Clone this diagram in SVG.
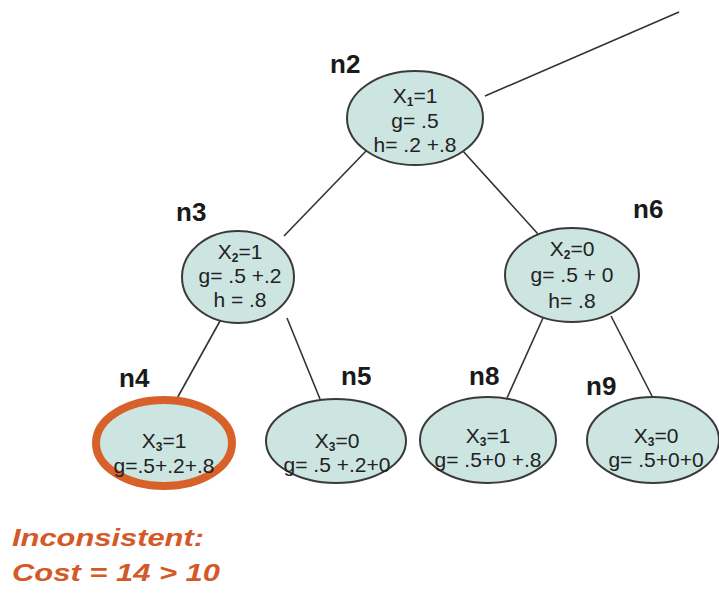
<svg xmlns="http://www.w3.org/2000/svg" width="719" height="598" viewBox="0 0 719 598">
  <style>
    .node { fill: #cce5e1; stroke: #3a3a3a; stroke-width: 2; }
    .bad { fill: #cce5e1; stroke: #d8612a; stroke-width: 8; }
    .edge { stroke: #333; stroke-width: 1.6; fill: none; }
    .t { font-family: "Liberation Sans", Arial, sans-serif; font-size: 21px; fill: #222; text-anchor: middle; }
    .sub { font-size: 12px; font-weight: bold; }
    .lbl { font-family: "Liberation Sans", Arial, sans-serif; font-size: 26px; font-weight: bold; fill: #1a1a1a; }
    .warn { font-family: "Liberation Sans", Arial, sans-serif; font-size: 23px; font-weight: bold; font-style: italic; fill: #d35a28; }
  </style>
  <rect width="719" height="598" fill="#ffffff"/>

  <!-- tree edges -->
  <g id="connectors">
    <line class="edge" x1="485" y1="96" x2="679" y2="12"/>
    <line class="edge" x1="367" y1="150" x2="284" y2="236"/>
    <line class="edge" x1="462" y1="150" x2="538" y2="234"/>
    <line class="edge" x1="220" y1="321" x2="175" y2="402"/>
    <line class="edge" x1="287" y1="318" x2="320" y2="399"/>
    <line class="edge" x1="543" y1="318" x2="507" y2="398"/>
    <line class="edge" x1="611" y1="316" x2="652" y2="396"/>
  </g>

  <g id="n2">
    <ellipse class="node" cx="415" cy="118" rx="68" ry="47"/>
    <text class="lbl" x="330" y="73">n2</text>
    <text class="t" x="415" y="103">X<tspan class="sub" dy="3">1</tspan><tspan dy="-3">=1</tspan></text>
    <text class="t" x="415" y="128">g= .5</text>
    <text class="t" x="415" y="152">h= .2 +.8</text>
  </g>

  <g id="n3">
    <ellipse class="node" cx="238" cy="277" rx="56" ry="46"/>
    <text class="lbl" x="176" y="221">n3</text>
    <text class="t" x="240" y="259">X<tspan class="sub" dy="3">2</tspan><tspan dy="-3">=1</tspan></text>
    <text class="t" x="240" y="283">g= .5 +.2</text>
    <text class="t" x="240" y="307">h = .8</text>
  </g>

  <g id="n6">
    <ellipse class="node" cx="572" cy="275" rx="67" ry="47"/>
    <text class="lbl" x="633" y="218">n6</text>
    <text class="t" x="572" y="256">X<tspan class="sub" dy="3">2</tspan><tspan dy="-3">=0</tspan></text>
    <text class="t" x="572" y="282">g= .5 + 0</text>
    <text class="t" x="572" y="308">h= .8</text>
  </g>

  <g id="n4">
    <ellipse class="bad" cx="164" cy="443" rx="68" ry="43"/>
    <text class="lbl" x="119" y="387">n4</text>
    <text class="t" x="164" y="448">X<tspan class="sub" dy="3">3</tspan><tspan dy="-3">=1</tspan></text>
    <text class="t" x="164" y="473">g=.5+.2+.8</text>
  </g>

  <g id="n5">
    <ellipse class="node" cx="336" cy="441" rx="70" ry="42"/>
    <text class="lbl" x="341" y="385">n5</text>
    <text class="t" x="337" y="448">X<tspan class="sub" dy="3">3</tspan><tspan dy="-3">=0</tspan></text>
    <text class="t" x="337" y="472">g= .5 +.2+0</text>
  </g>

  <g id="n8">
    <ellipse class="node" cx="488" cy="440" rx="68" ry="43"/>
    <text class="lbl" x="469" y="385">n8</text>
    <text class="t" x="488" y="443">X<tspan class="sub" dy="3">3</tspan><tspan dy="-3">=1</tspan></text>
    <text class="t" x="488" y="467">g= .5+0 +.8</text>
  </g>

  <g id="n9">
    <ellipse class="node" cx="653" cy="440" rx="66" ry="43"/>
    <text class="lbl" x="586" y="395">n9</text>
    <text class="t" x="656" y="443">X<tspan class="sub" dy="3">3</tspan><tspan dy="-3">=0</tspan></text>
    <text class="t" x="656" y="467">g= .5+0+0</text>
  </g>

  <g id="note">
    <text class="warn" x="12" y="546" textLength="192" lengthAdjust="spacingAndGlyphs">Inconsistent:</text>
    <text class="warn" x="12" y="581" textLength="208" lengthAdjust="spacingAndGlyphs">Cost = 14 &gt; 10</text>
  </g>
</svg>
